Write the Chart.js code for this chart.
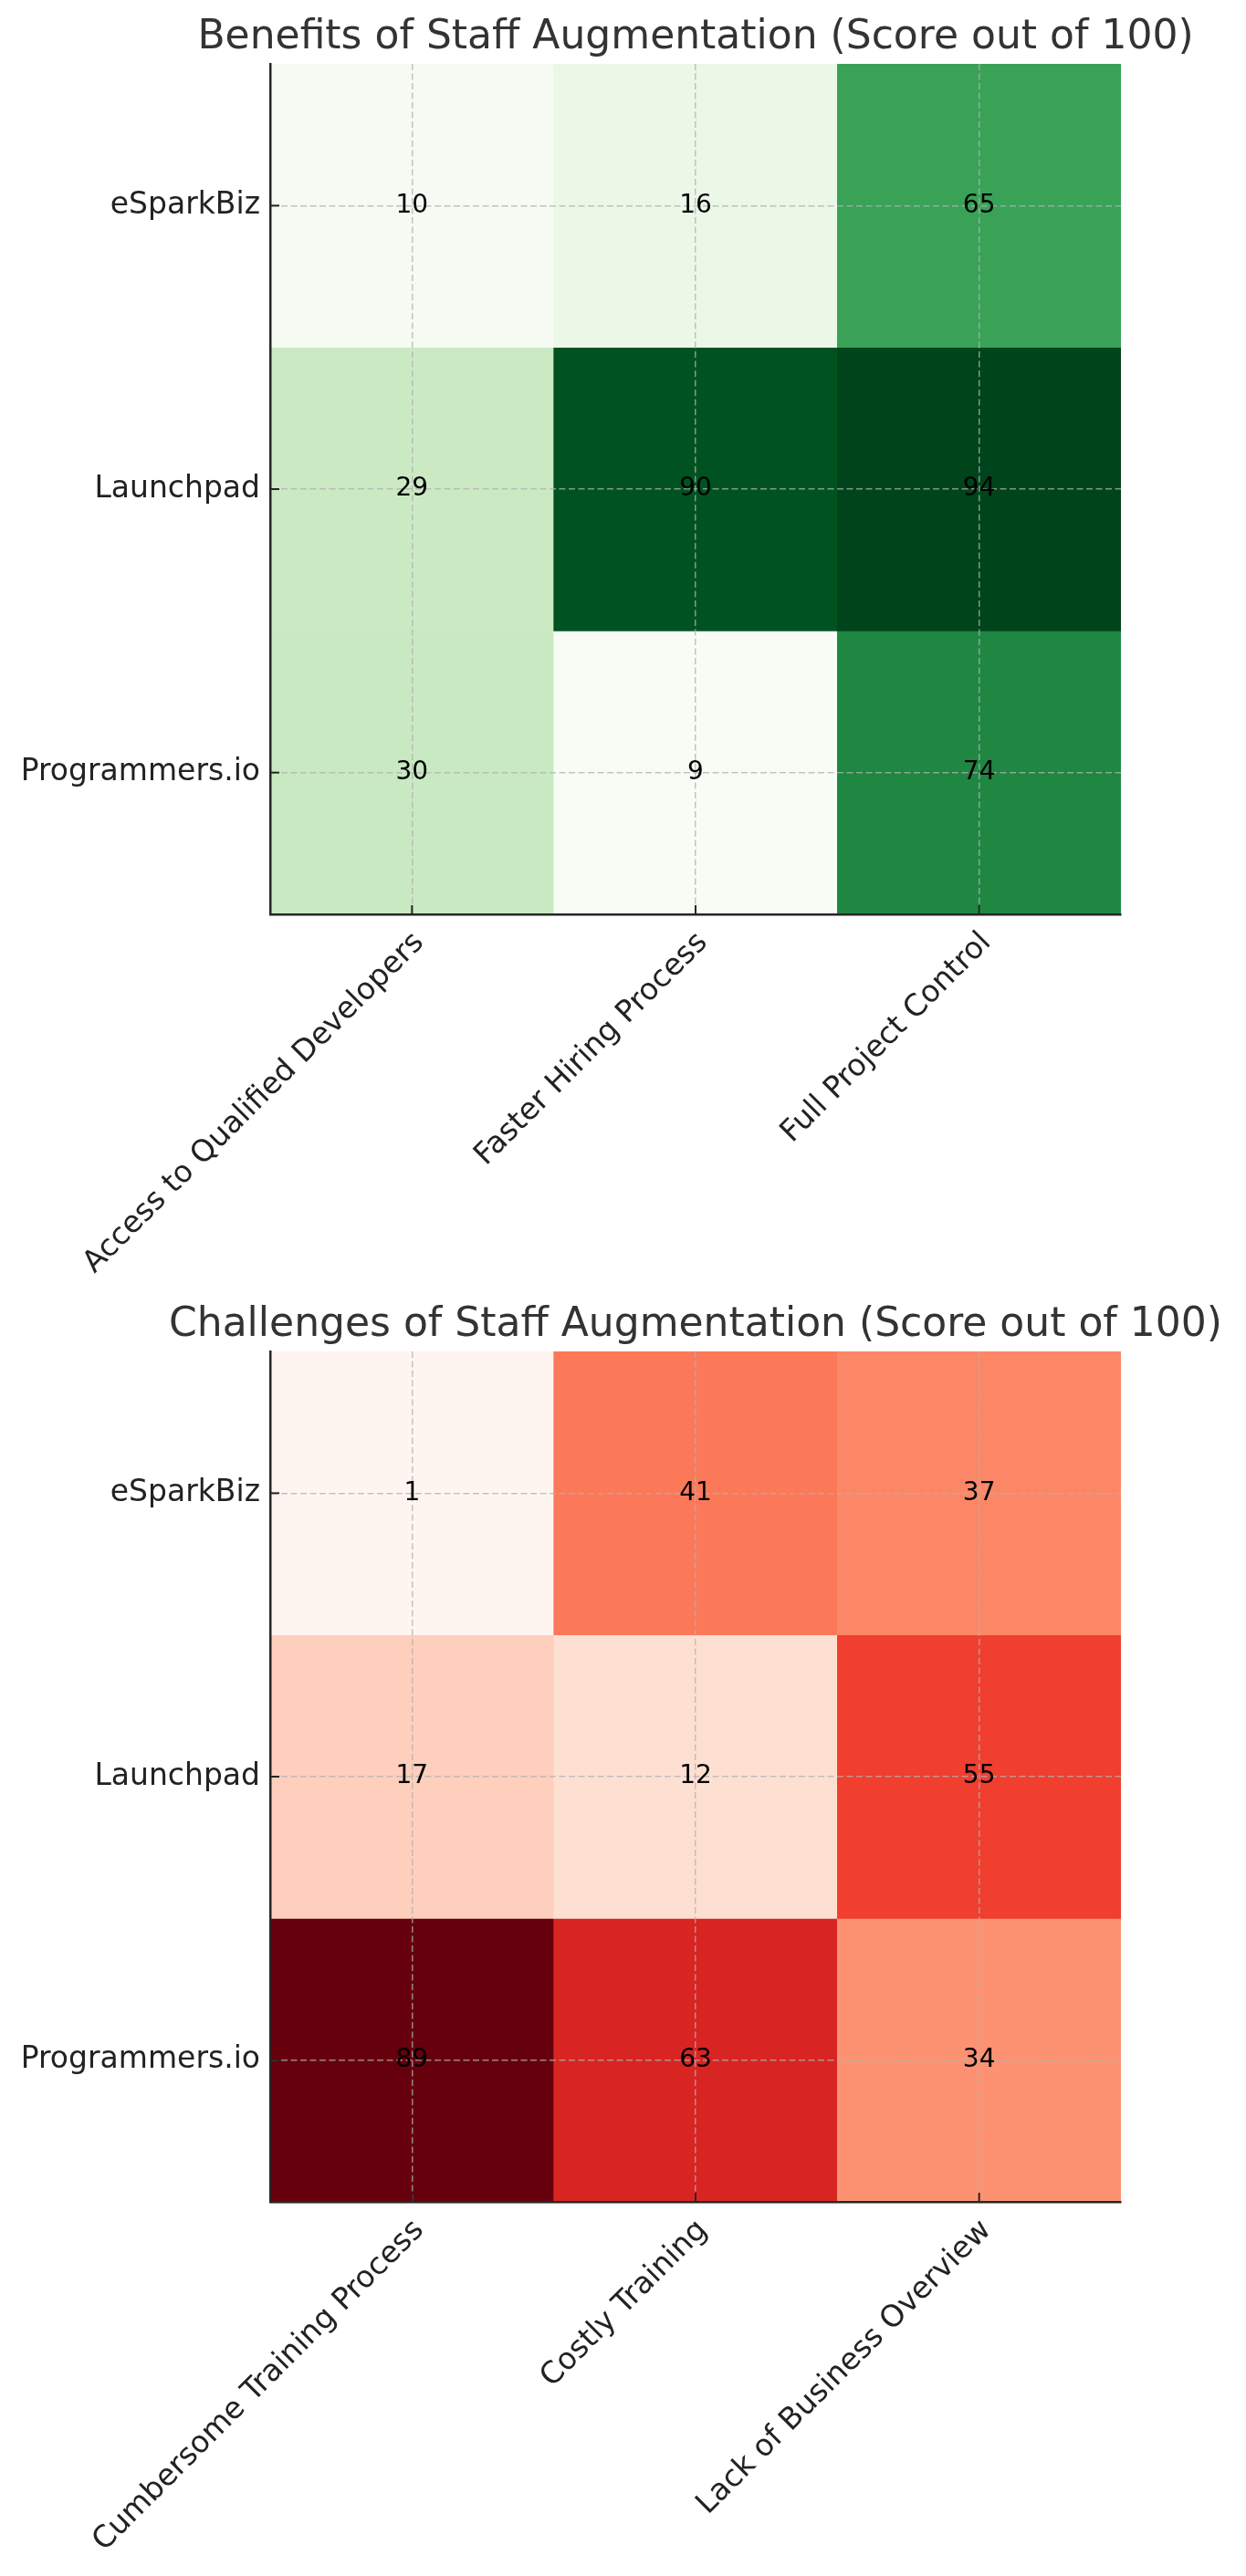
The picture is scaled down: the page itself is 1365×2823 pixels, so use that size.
<!DOCTYPE html>
<html>
<head>
<meta charset="utf-8">
<title>Staff Augmentation</title>
<script src="https://cdn.jsdelivr.net/npm/chart.js@4.4.1/dist/chart.umd.min.js"></script>
<style>
  html, body { margin: 0; padding: 0; background: #fff; }
  canvas { display: block; }
</style>
</head>
<body>
<canvas id="benefitsChart" width="1365" height="1411"></canvas>
<canvas id="challengesChart" width="1365" height="1412"></canvas>
<script>
const companies = ["eSparkBiz", "Launchpad", "Programmers.io"];

const benefitLabels = ["Access to Qualified Developers", "Faster Hiring Process", "Full Project Control"];
const benefitsESparkBiz = [10, 16, 65];
const benefitsLaunchpad = [29, 90, 94];
const benefitsProgrammers = [30, 9, 74];

const challengeLabels = ["Cumbersome Training Process", "Costly Training", "Lack of Business Overview"];
const challengesESparkBiz = [1, 41, 37];
const challengesLaunchpad = [17, 12, 55];
const challengesProgrammers = [89, 63, 34];

// colorbrewer ramps (same stops matplotlib uses)
const greens = ["#f7fcf5", "#e5f5e0", "#c7e9c0", "#a1d99b", "#74c476", "#41ab5d", "#238b45", "#006d2c", "#00441b"];
const reds = ["#fff5f0", "#fee0d2", "#fcbba1", "#fc9272", "#fb6a4a", "#ef3b2c", "#cb181d", "#a50f15", "#67000d"];

function hexToRgb(h) {
  return [1, 3, 5].map(i => parseInt(h.slice(i, i + 2), 16));
}

function rampColor(stops, t) {
  t = Math.max(0, Math.min(1, t));
  const s = t * (stops.length - 1);
  const i = Math.min(Math.floor(s), stops.length - 2);
  const f = s - i;
  const a = hexToRgb(stops[i]);
  const b = hexToRgb(stops[i + 1]);
  const c = a.map((v, k) => Math.round(v + (b[k] - v) * f));
  return `rgb(${c[0]}, ${c[1]}, ${c[2]})`;
}

const FONT = "'DejaVu Sans', sans-serif";
const AXIS_COLOR = "#262626";
const GRID_COLOR = "rgba(176, 176, 176, 0.75)";

// title centred over the plot area (built-in title squeezes text to the box)
const plotTitle = {
  id: "plotTitle",
  afterDraw(chart, args, opts) {
    const { ctx, chartArea } = chart;
    ctx.save();
    ctx.fillStyle = "#333333";
    ctx.font = `44px ${FONT}`;
    ctx.textAlign = "center";
    ctx.textBaseline = "alphabetic";
    ctx.fillText(opts.text, (chartArea.left + chartArea.right) / 2, 53);
    ctx.restore();
  }
};

// tick marks pointing into the plot, like the original
const innerTicks = {
  id: "innerTicks",
  afterDraw(chart) {
    const { ctx, chartArea } = chart;
    const x = chart.scales.x;
    const y = chart.scales.y;
    ctx.save();
    ctx.strokeStyle = AXIS_COLOR;
    ctx.lineWidth = 2;
    x.ticks.forEach((t, i) => {
      const px = x.getPixelForTick(i);
      ctx.beginPath();
      ctx.moveTo(px, chartArea.bottom);
      ctx.lineTo(px, chartArea.bottom - 10);
      ctx.stroke();
    });
    y.ticks.forEach((t, i) => {
      const py = y.getPixelForTick(i);
      ctx.beginPath();
      ctx.moveTo(chartArea.left, py);
      ctx.lineTo(chartArea.left + 10, py);
      ctx.stroke();
    });
    ctx.restore();
  }
};

// score written in the middle of each cell
const cellText = {
  id: "cellText",
  afterDraw(chart) {
    const { ctx } = chart;
    ctx.save();
    ctx.fillStyle = "#000";
    ctx.font = `28px ${FONT}`;
    ctx.textAlign = "center";
    ctx.textBaseline = "middle";
    chart.data.datasets.forEach((ds, di) => {
      chart.getDatasetMeta(di).data.forEach((bar, ci) => {
        ctx.fillText(String(ds.scores[ci]), bar.x, (bar.y + bar.base) / 2);
      });
    });
    ctx.restore();
  }
};

function makeHeatmap(canvasId, title, columns, rows, ramp) {
  const all = rows.flat();
  const lo = Math.min(...all);
  const hi = Math.max(...all);
  const canvas = document.getElementById(canvasId);
  const axisHeight = canvas.height - 1002;

  const datasets = rows.map((scores, r) => ({
    label: companies[r],
    data: scores.map(() => 1),
    scores: scores,
    backgroundColor: scores.map(v => rampColor(ramp, (v - lo) / (hi - lo))),
    borderWidth: 0,
    barPercentage: 1,
    categoryPercentage: 1
  }));

  return new Chart(canvas, {
    type: "bar",
    data: { labels: columns, datasets },
    plugins: [innerTicks, cellText, plotTitle],
    options: {
      responsive: false,
      animation: false,
      devicePixelRatio: 1,
      layout: { padding: { left: 0, right: 137, top: 70, bottom: 0 } },
      plugins: {
        legend: { display: false },
        tooltip: { enabled: false },
        title: { display: false },
        plotTitle: { text: title }
      },
      scales: {
        x: {
          stacked: true,
          offset: true,
          grid: {
            offset: false,
            drawTicks: false,
            color: GRID_COLOR,
            lineWidth: 1.5,
            z: 1
          },
          border: { display: true, color: AXIS_COLOR, width: 2.5, dash: [7, 3.5], z: 2 },
          ticks: {
            autoSkip: false,
            minRotation: 45,
            maxRotation: 45,
            padding: 12,
            labelOffset: 8,
            color: "#222222",
            font: { family: FONT, size: 33 }
          },
          afterFit(scale) { scale.height = axisHeight; }
        },
        y: {
          stacked: true,
          reverse: true,
          min: 0,
          max: rows.length,
          grid: {
            drawTicks: false,
            color: GRID_COLOR,
            lineWidth: 1.5,
            z: 1
          },
          border: { display: true, color: AXIS_COLOR, width: 2.5, dash: [7, 3.5], z: 2 },
          afterBuildTicks(scale) {
            scale.ticks = companies.map((c, i) => ({ value: i + 0.5 }));
          },
          ticks: {
            padding: 11,
            color: "#222222",
            font: { family: FONT, size: 33 },
            callback: (value, index) => companies[index]
          },
          afterFit(scale) { scale.width = 296; }
        }
      }
    }
  });
}

makeHeatmap("benefitsChart", "Benefits of Staff Augmentation (Score out of 100)", benefitLabels,
  [benefitsESparkBiz, benefitsLaunchpad, benefitsProgrammers], greens);

makeHeatmap("challengesChart", "Challenges of Staff Augmentation (Score out of 100)", challengeLabels,
  [challengesESparkBiz, challengesLaunchpad, challengesProgrammers], reds);
</script>
</body>
</html>
